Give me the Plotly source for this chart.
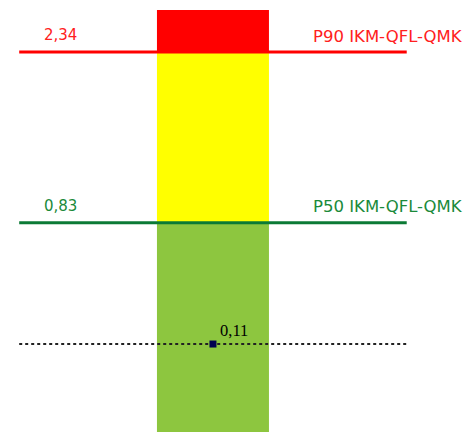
import numpy as np
import plotly.graph_objects as go

# ---- data ----
threshold_names = ["P90 IKM-QFL-QMK", "P50 IKM-QFL-QMK"]
threshold_values = [2.34, 0.83]
threshold_labels = ["2,34", "0,83"]
current_value = 0.11
current_label = "0,11"
zone_bounds = [-0.4, 0.83, 2.34, 2.776]   # green | yellow | red
zone_colors = ["#8DC63F", "#FFFF00", "#FF0000"]
threshold_colors = ["#FF0000", "#0B7A35"]
label_colors = ["#FF2020", "#1A8A3A"]

# display scale (signed power scale)
POWER = 0.7
def t(v):
    v = np.asarray(v, dtype=float)
    return np.sign(v) * np.abs(v) ** POWER

y_range_values = [-0.190, 2.798]
LINE_HALF = 1.73

fig = go.Figure()

# zones of the bar
for lo, hi, col in zip(zone_bounds[:-1], zone_bounds[1:], zone_colors):
    fig.add_trace(go.Bar(x=[0], y=[float(t(hi) - t(lo))], base=[float(t(lo))],
                         width=1, marker=dict(color=col, line=dict(width=0)),
                         showlegend=False, hoverinfo="skip"))

# threshold lines
for val, col, lab, name, lcol in zip(threshold_values, threshold_colors,
                                     threshold_labels, threshold_names, label_colors):
    ty = float(t(val))
    fig.add_trace(go.Scatter(x=[-LINE_HALF, LINE_HALF], y=[ty, ty], mode="lines",
                             line=dict(color=col, width=3), showlegend=False,
                             hoverinfo="skip"))
    fig.add_annotation(x=-1.53, y=ty, text=lab, showarrow=False, xanchor="left",
                       yanchor="middle", yshift=17,
                       font=dict(family="DejaVu Sans", size=15, color=lcol))
    fig.add_annotation(x=2.25, y=ty, text=name, showarrow=False, xanchor="right",
                       yanchor="middle", yshift=16,
                       font=dict(family="DejaVu Sans", size=16.5, color=lcol))

# current value dotted line + marker
tc = float(t(current_value))
fig.add_trace(go.Scatter(x=[-LINE_HALF, LINE_HALF], y=[tc, tc], mode="lines",
                         line=dict(color="#222222", width=2, dash="dot"),
                         showlegend=False, hoverinfo="skip"))
fig.add_trace(go.Scatter(x=[0], y=[tc], mode="markers",
                         marker=dict(symbol="square", size=7, color="#000050",
                                     line=dict(width=0)),
                         showlegend=False, hoverinfo="skip"))
fig.add_annotation(x=0, y=tc, text=current_label, showarrow=False, xanchor="left",
                   yanchor="middle", xshift=5, yshift=14,
                   font=dict(family="Liberation Serif", size=16.5, color="#000000"))

fig.update_layout(
    width=475, height=432,
    margin=dict(l=0, r=0, t=0, b=0),
    paper_bgcolor="white", plot_bgcolor="white",
    barmode="overlay",
    xaxis=dict(range=[-1.830, 2.411], visible=False, fixedrange=True),
    yaxis=dict(range=[float(t(y_range_values[0])), float(t(y_range_values[1]))],
               visible=False, fixedrange=True),
)

fig.write_html("out.html")
